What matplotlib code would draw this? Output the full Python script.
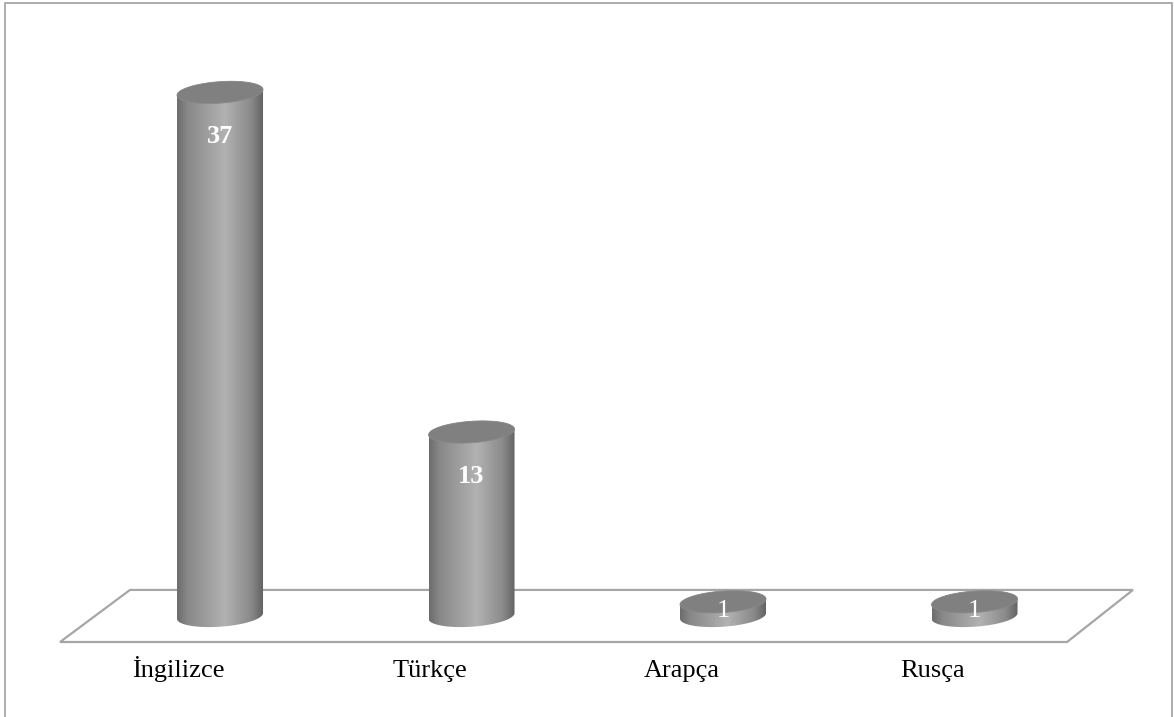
import numpy as np
import matplotlib.pyplot as plt
from matplotlib.patches import Polygon, Rectangle
from matplotlib.colors import LinearSegmentedColormap

# data
categories = ["İngilizce", "Türkçe", "Arapça", "Rusça"]
values = [37, 13, 1, 1]

plt.rcParams['font.family'] = ['Liberation Serif', 'DejaVu Serif']

fig = plt.figure(figsize=(11.74, 7.17), dpi=100)
ax = fig.add_axes([0, 0, 1, 1])
ax.set_xlim(-0.8748, 3.7932)
ax.set_ylim(-7.14, 43.53)
ax.axis('off')

# cylinder geometry (data units)
half_w = 0.171
ry = 0.76
tilt = 0.2

# floor parallelogram
n = len(categories)
floor = Polygon([(-0.358, 1.84), (n - 1 + 0.630, 1.84),
                 (n - 1 + 0.368, -1.84), (-0.636, -1.84)],
                closed=True, fill=False, edgecolor='#a6a6a6', lw=1.6, zorder=1)
ax.add_patch(floor)

body_cmap = LinearSegmentedColormap.from_list(
    'cyl', [(0, '#6c6c6c'), (0.12, '#888888'), (0.55, '#b2b2b2'),
            (0.85, '#8a8a8a'), (1, '#606060')])
grad = np.linspace(0, 1, 256).reshape(1, -1)


def ellipse_pts(cx, cy, t):
    return np.column_stack([cx + half_w * np.cos(t),
                            cy + ry * np.sin(t) + tilt * np.cos(t)])


for i, v in enumerate(values):
    # lower half of base ellipse, then upper half of top ellipse
    base = ellipse_pts(i, 0, np.linspace(np.pi, 2 * np.pi, 60))
    top = ellipse_pts(i, v, np.linspace(0, np.pi, 60))
    body = Polygon(np.vstack([base, top]), closed=True, facecolor='none',
                   edgecolor='none', zorder=2)
    ax.add_patch(body)
    im = ax.imshow(grad, cmap=body_cmap, aspect='auto', zorder=2,
                   extent=(i - half_w, i + half_w, -ry - tilt, v + ry + tilt),
                   interpolation='bilinear')
    im.set_clip_path(body)
    cap = Polygon(ellipse_pts(i, v, np.linspace(0, 2 * np.pi, 120)), closed=True,
                  facecolor='#808080', edgecolor='#8a8a8a', lw=0.6, zorder=3)
    ax.add_patch(cap)

    if v > 5:
        ax.text(i, v - 3.15, str(v), ha='center', va='center', color='white',
                fontsize=19, fontweight='bold', zorder=4)
    else:
        ax.text(i, v / 2 - 0.15, str(v), ha='center', va='center', color='white',
                fontsize=19, zorder=4)

    ax.text(i - 0.165, -4.31, categories[i], ha='center', va='baseline',
            fontsize=19, color='black')

# outer frame
fig.patches.append(Rectangle((5 / 1174, -0.01), 1167 / 1174, 1.01 - 2.5 / 717,
                             transform=fig.transFigure, fill=False,
                             edgecolor='#a0a0a0', lw=1.2))

fig.savefig('out.png', dpi=100)
